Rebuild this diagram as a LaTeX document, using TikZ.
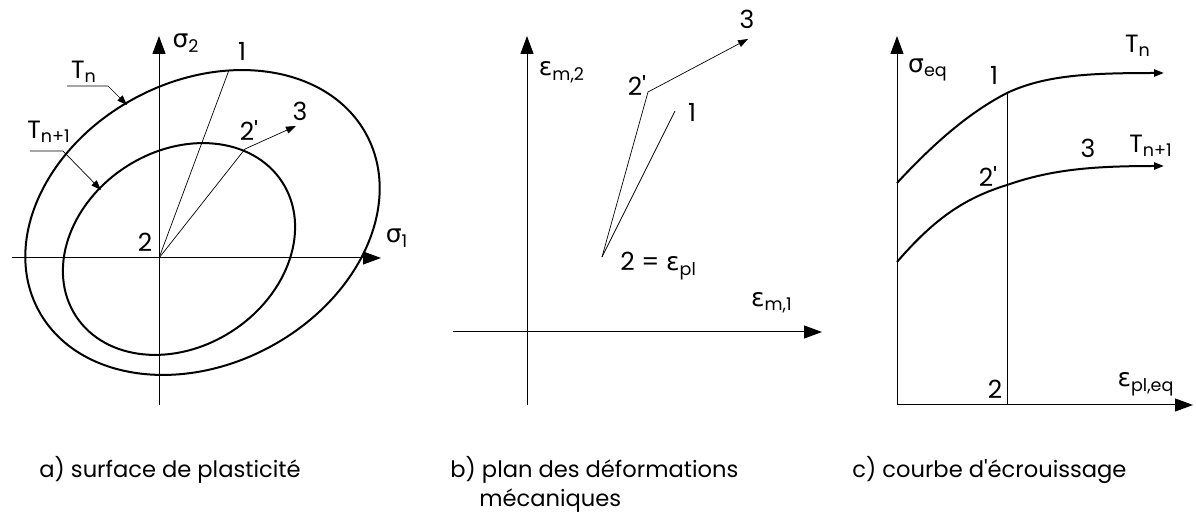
\documentclass[tikz,border=0pt]{standalone}
\usepackage{fontspec}
\setmainfont{Poppins}
\newfontfamily\greekfont{DejaVu Sans}
\usetikzlibrary{arrows.meta}

\newcommand{\gsig}{{\greekfont σ}}
\newcommand{\geps}{{\greekfont ε}}
\newcommand{\pr}{\textquotesingle}

\begin{document}
\begin{tikzpicture}[x=0.5pt, y=-0.5pt, font=\fontsize{12.5}{14}\selectfont,
  axis/.style={line width=0.5pt, -{Triangle[length=9pt, width=6.5pt]}},
  thinline/.style={line width=0.35pt},
  bold/.style={line width=1pt},
  smalltip/.style={-{Triangle[length=5pt, width=3.6pt]}},
  lbl/.style={inner sep=1pt},
  caption/.style={inner sep=1pt, anchor=west, font=\fontsize{11.3}{13}\selectfont}]

\useasboundingbox (0,0) rectangle (1196,518);

% ---- a) surface de plasticite -------------------------------------------
\coordinate (Oa) at (159,258);
\coordinate (axL) at (12,258);   \coordinate (axR) at (381,258);
\coordinate (ayB) at (159,405);  \coordinate (ayT) at (159,36);
\draw[axis] (axL) -- (axR);
\draw[axis] (ayB) -- (ayT);
\node[lbl] (s2) at (186,43) {\gsig\textsubscript{2}};
\node[lbl] (s1) at (397,238) {\gsig\textsubscript{1}};

\draw[bold, rotate around={28:(202.5,222.5)}]
      (202.5,222.5) ellipse [x radius=186, y radius=141.5];
\draw[bold, rotate around={33:(179,249)}]
      (179,249) ellipse [x radius=123, y radius=97.8];

\coordinate (Pa1) at (229,70);
\coordinate (Pa2p) at (245,149);
\coordinate (Pa3) at (296,126);
\draw[thinline] (Oa) -- (Pa1);
\draw[thinline, smalltip] (Oa) -- (Pa2p) -- (Pa3);
\node[lbl] (a1) at (242,51) {1};
\node[lbl] (a3) at (300,111) {3};
\node[lbl] (a2p) at (249,131) {2\pr};
\node[lbl] (a2) at (145,242) {2};

% temperature labels with leaders
\node[lbl] (Tn) at (84,72) {T\textsubscript{n}};
\coordinate (TnA) at (67,86);  \coordinate (TnB) at (108,86);
\coordinate (TnC) at (127,105);
\draw[thinline, smalltip] (TnA) -- (TnB) -- (TnC);
\node[lbl] (Tn1) at (49,132) {T\textsubscript{n+1}};
\coordinate (Tn1A) at (30,151);  \coordinate (Tn1B) at (63,151);
\coordinate (Tn1C) at (101,190);
\draw[thinline, smalltip] (Tn1A) -- (Tn1B) -- (Tn1C);

% ---- b) plan des deformations -------------------------------------------
\coordinate (bxL) at (453,332);  \coordinate (bxR) at (822,332);
\coordinate (byB) at (527,405);  \coordinate (byT) at (527,36);
\draw[axis] (bxL) -- (bxR);
\draw[axis] (byB) -- (byT);
\node[lbl] (em2) at (562,72) {\geps\textsubscript{m,2}};
\node[lbl] (em1) at (772,303) {\geps\textsubscript{m,1}};

\coordinate (Pb2) at (602,257);
\coordinate (Pb2p) at (648,92);
\coordinate (Pb1) at (675,111);
\coordinate (Pb3) at (748,39);
\draw[thinline] (Pb2) -- (Pb1);
\draw[thinline, smalltip] (Pb2) -- (Pb2p) -- (Pb3);
\node[lbl] (b3) at (747,19) {3};
\node[lbl] (b2p) at (637,86) {2\pr};
\node[lbl] (b1) at (692,112) {1};
\node[lbl, anchor=west] (b2) at (618,266) {2 = \geps\textsubscript{pl}};

% ---- c) courbe d'ecrouissage --------------------------------------------
\coordinate (cO) at (897,405);
\coordinate (cxR) at (1193,405);  \coordinate (cyT) at (897,36);
\draw[axis] (cO) -- (cxR);
\draw[axis] (cO) -- (cyT);
\node[lbl] (seq) at (928,70) {\gsig\textsubscript{eq}};
\node[lbl] (epeq) at (1146,384) {\geps\textsubscript{pl,eq}};

\coordinate (C1a) at (897,183);  \coordinate (C1b) at (1007,93);
\coordinate (C1c) at (1164,73);
\draw[bold, smalltip] (C1a) .. controls (935,142) and (970,112) .. (C1b)
      .. controls (1045,75) and (1090,73) .. (C1c);
\coordinate (C2a) at (897,262);  \coordinate (C2b) at (1007,185);
\coordinate (C2c) at (1164,166);
\draw[bold, smalltip] (C2a) .. controls (935,218) and (965,198) .. (C2b)
      .. controls (1050,170) and (1090,166) .. (C2c);
\coordinate (cV) at (1007,405);
\draw[thinline] (cV) -- (C1b);

\node[lbl] (c1) at (994,75) {1};
\node[lbl] (c3) at (1088,148) {3};
\node[lbl] (c2p) at (988,177) {2\pr};
\node[lbl] (c2) at (995,389) {2};
\node[lbl] (cTn) at (1138,46) {T\textsubscript{n}};
\node[lbl] (cTn1) at (1151,146) {T\textsubscript{n+1}};

% ---- captions -----------------------------------------------------------
\node[caption] (capa) at (37,470) {a) surface de plasticité};
\node[caption] (capb) at (448,470) {b) plan des déformations};
\node[caption] (capb2) at (477,501) {mécaniques};
\node[caption] (capc) at (850,470) {c) courbe d\pr écrouissage};

\end{tikzpicture}
\end{document}
